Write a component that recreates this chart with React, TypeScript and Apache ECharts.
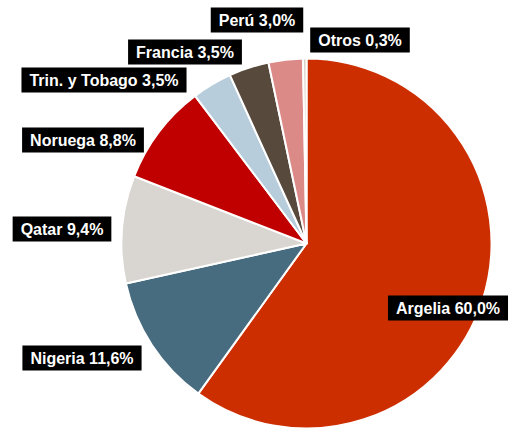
import React, { useEffect, useRef } from "react";
import * as echarts from "echarts";

const countries = ["Argelia", "Nigeria", "Qatar", "Noruega", "Trin. y Tobago", "Francia", "Perú", "Otros"];
const shares = [60.0, 11.6, 9.4, 8.8, 3.5, 3.5, 3.0, 0.3];
const colors = ["#cd2e00", "#476c80", "#d9d5d0", "#c00000", "#b7cddb", "#574a3c", "#db8a87", "#d6ccc0"];
// label box centres (layout only)
const labelPos: [number, number][] = [
  [448, 308],
  [82, 358],
  [62, 229],
  [83, 140],
  [104, 80],
  [185, 52],
  [257, 20],
  [360, 40],
];

export default function App() {
  const ref = useRef<HTMLDivElement>(null);
  useEffect(() => {
    document.body.style.margin = "0";
    const chart = echarts.init(ref.current!, null, { renderer: "svg" });
    chart.setOption({
      animation: false,
      series: [
        {
          type: "pie",
          center: [306.5, 243.5],
          radius: [0, 185],
          startAngle: 90,
          clockwise: true,
          avoidLabelOverlap: false,
          data: countries.map((c, i) => ({
            name: c,
            value: shares[i],
            itemStyle: { color: colors[i] },
          })),
          itemStyle: { borderColor: "#ffffff", borderWidth: 2 },
          label: {
            show: true,
            position: "inside",
            formatter: (p: any) => `${p.name} ${Number(p.value).toFixed(1).replace(".", ",")}%`,
            color: "#ffffff",
            backgroundColor: "#000000",
            fontFamily: "Liberation Sans, Arial, sans-serif",
            fontWeight: "bold",
            fontSize: 16,
            lineHeight: 17,
            padding: [4, 8, 4, 8],
          },
          labelLine: { show: false },
          labelLayout: (params: any) => {
            const pos = labelPos[params.dataIndex];
            return { x: pos[0], y: pos[1], align: "center", verticalAlign: "middle" };
          },
          emphasis: { disabled: true },
        },
      ],
    });
    return () => chart.dispose();
  }, []);
  return <div ref={ref} style={{ width: 520, height: 428 }} />;
}
